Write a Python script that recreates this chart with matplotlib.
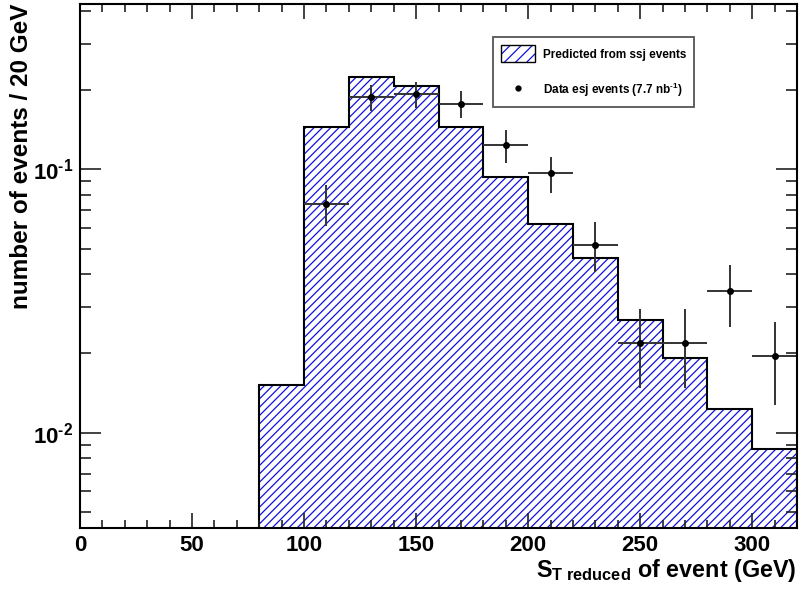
import matplotlib
matplotlib.use("Agg")
import matplotlib.pyplot as plt
import matplotlib.ticker as mticker
from matplotlib.patches import Patch
from matplotlib.lines import Line2D
import numpy as np

plt.rcParams["font.family"] = ["Liberation Sans", "DejaVu Sans"]
plt.rcParams["font.weight"] = "bold"
plt.rcParams["mathtext.fontset"] = "custom"
plt.rcParams["mathtext.rm"] = "Liberation Sans:bold"
plt.rcParams["mathtext.it"] = "Liberation Sans:bold"
plt.rcParams["mathtext.bf"] = "Liberation Sans:bold"
plt.rcParams["hatch.linewidth"] = 0.9

# predicted (ssj) histogram, 20 GeV bins
bin_edges = [80, 100, 120, 140, 160, 180, 200, 220, 240, 260, 280, 300, 320]
predicted = [0.0152, 0.1445, 0.2239, 0.2068, 0.1445, 0.0932, 0.0618,
             0.0459, 0.0269, 0.0193, 0.0123, 0.0087]

# data (esj) points
data_x = [110, 130, 150, 170, 190, 210, 230, 250, 270, 290, 310]
data_y = [0.0736, 0.1878, 0.1928, 0.1767, 0.1234, 0.0966, 0.0514,
          0.0220, 0.0220, 0.0344, 0.0196]
data_hi = [0.0869, 0.2087, 0.2142, 0.1980, 0.1407, 0.1110, 0.0629,
           0.0294, 0.0294, 0.0435, 0.0264]
data_lo = [0.0607, 0.1662, 0.1706, 0.1560, 0.1054, 0.0811, 0.0406,
           0.0148, 0.0148, 0.0253, 0.0128]
bin_half = 10

HATCH_BLUE = "#1010e0"

fig = plt.figure(figsize=(8, 5.9), dpi=100)
ax = fig.add_axes([0.1, 0.1051, 0.89625, 0.888])

edges = np.array(bin_edges, dtype=float)
vals = np.array(predicted)
ax.fill_between(edges, np.append(vals, vals[-1]), 1e-5, step="post",
                facecolor="white", edgecolor=HATCH_BLUE, hatch="////", linewidth=0)
ax.stairs(vals, edges, baseline=1e-5, color="black", linewidth=1.5)

y = np.array(data_y)
yerr = [y - np.array(data_lo), np.array(data_hi) - y]
ax.errorbar(data_x, y, xerr=bin_half, yerr=yerr, fmt="o", color="black",
            ecolor="#333333", elinewidth=1.4, markersize=4, capsize=0)

ax.set_yscale("log")
ax.set_xlim(0, 320)
ax.set_ylim(0.00435, 0.424)

ax.xaxis.set_major_locator(mticker.MultipleLocator(50))
ax.xaxis.set_minor_locator(mticker.MultipleLocator(10))
ax.yaxis.set_major_locator(mticker.LogLocator(base=10, numticks=10))
ax.yaxis.set_minor_locator(mticker.LogLocator(base=10, subs=np.arange(2, 10), numticks=20))
ax.yaxis.set_minor_formatter(mticker.NullFormatter())
ax.yaxis.set_major_formatter(mticker.FuncFormatter(
    lambda v, pos: r"$10^{\text{-}%d}$" % round(-np.log10(v))))

ax.tick_params(which="both", direction="in", top=True, right=True, width=1.2,
               labelsize=16, color="#222222")
ax.tick_params(axis="x", which="major", length=11, pad=5)
ax.tick_params(axis="x", which="minor", length=5.5)
ax.tick_params(axis="y", which="major", length=15, pad=5)
ax.tick_params(axis="y", which="minor", length=7.7)
for s in ax.spines.values():
    s.set_linewidth(1.5)

ax.set_xlabel(r"$S_{T\ reduced}$ of event (GeV)", fontsize=16.8, fontweight="bold")
ax.xaxis.set_label_coords(1.0, -0.055)
ax.xaxis.label.set_horizontalalignment("right")
ax.set_ylabel("number of events / 20 GeV", fontsize=17.5, fontweight="bold", loc="top")
ax.yaxis.set_label_coords(-0.065, 1.0)

hatch_box = Patch(facecolor="white", edgecolor=HATCH_BLUE, hatch="///", linewidth=0)
border_box = Patch(facecolor="none", edgecolor="black", linewidth=1)
dot = Line2D([], [], marker="o", color="black", linestyle="none", markersize=3.5)
labels = ["Predicted from ssj events", r"Data esj events (7.7 nb$^{\text{-}1}$)"]
leg = ax.legend([(hatch_box, border_box), dot], labels, loc="upper left",
                bbox_to_anchor=(0.576, 0.937),
                fontsize=8.5, handlelength=2.9, handleheight=1.8, handletextpad=0.6,
                labelspacing=1.6, borderpad=0.7, fancybox=False, framealpha=1,
                edgecolor="#555555", borderaxespad=0)
leg.get_frame().set_linewidth(1.3)
for t in leg.get_texts():
    t.set_fontweight("bold")

fig.savefig("out.png", dpi=100)
